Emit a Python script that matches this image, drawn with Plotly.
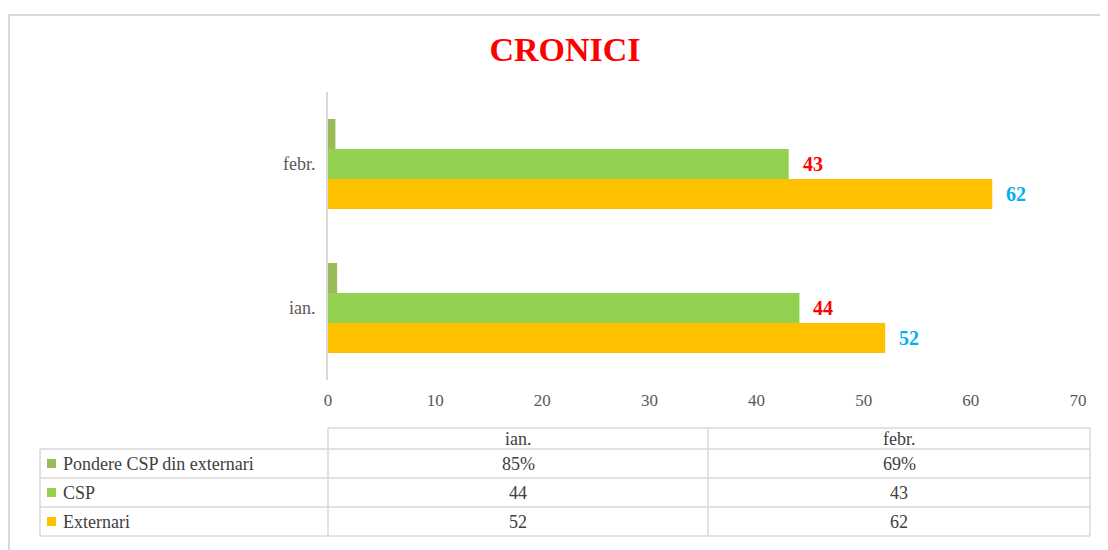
import plotly.graph_objects as go

# ---- data ----
categories = ["ian.", "febr."]
externari = [52, 62]
csp = [44, 43]
pondere = [0.85, 0.69]
series_names = ["Pondere CSP din externari", "CSP", "Externari"]
x_ticks = [0, 10, 20, 30, 40, 50, 60, 70]

# ---- style ----
OFF = 8  # page body margin
W, H = 1108 - OFF, 550 - OFF
PL, PR, PT, PB = 328, 1078, 92, 380  # plot area in screen pixels
C_POND, C_CSP, C_EXT = "#9bbb59", "#92d050", "#ffc000"
FONT = "Liberation Serif"
GRID = "#d9d9d9"


def px(x):
    return (x - PL) / (PR - PL)


def py(y):
    return (PB - y) / (PB - PT)


fig = go.Figure()
fig.add_trace(go.Bar(y=categories, x=externari, orientation="h", name="Externari",
                     marker=dict(color=C_EXT, line=dict(width=0))))
fig.add_trace(go.Bar(y=categories, x=csp, orientation="h", name="CSP",
                     marker=dict(color=C_CSP, line=dict(width=0))))
fig.add_trace(go.Bar(y=categories, x=pondere, orientation="h", name="Pondere CSP din externari",
                     marker=dict(color=C_POND, line=dict(width=0))))

# data labels
for cat, v in zip(categories, csp):
    fig.add_annotation(x=v, y=cat, xref="x", yref="y", text=f"<b>{v}</b>", showarrow=False,
                       xanchor="left", xshift=12, yshift=0,
                       font=dict(family=FONT, size=20, color="#ff0000"))
for cat, v in zip(categories, externari):
    fig.add_annotation(x=v, y=cat, xref="x", yref="y", text=f"<b>{v}</b>", showarrow=False,
                       xanchor="left", xshift=12, yshift=-30,
                       font=dict(family=FONT, size=20, color="#00b0f0"))

shapes = []
# outer border
shapes.append(dict(type="rect", xref="paper", yref="paper", x0=px(9), x1=px(1130), y0=py(570), y1=py(15),
                   line=dict(color=GRID, width=2), fillcolor="rgba(0,0,0,0)", layer="below"))
# table lines
line = dict(color=GRID, width=1.5)
shapes.append(dict(type="line", xref="paper", yref="paper", x0=px(328), x1=px(1090), y0=py(428), y1=py(428), line=line))
for yy in [449, 478, 507, 536]:
    shapes.append(dict(type="line", xref="paper", yref="paper", x0=px(40), x1=px(1090), y0=py(yy), y1=py(yy), line=line))
shapes.append(dict(type="line", xref="paper", yref="paper", x0=px(40), x1=px(40), y0=py(449), y1=py(536), line=line))
for xx in [328, 708, 1090]:
    shapes.append(dict(type="line", xref="paper", yref="paper", x0=px(xx), x1=px(xx), y0=py(428), y1=py(536), line=line))

row_centers = [463.5, 492.5, 521.5]
row_colors = [C_POND, C_CSP, C_EXT]
row_values = [[f"{round(v * 100)}%" for v in pondere], [str(v) for v in csp], [str(v) for v in externari]]
col_centers = [518, 899]
TFONT = dict(family=FONT, size=18, color="#404040")

for cat, cx in zip(categories, col_centers):
    fig.add_annotation(x=px(cx), y=py(438.5), xref="paper", yref="paper", text=cat, showarrow=False,
                       xanchor="center", yanchor="middle", font=TFONT)

for name, color, cy, vals in zip(series_names, row_colors, row_centers, row_values):
    shapes.append(dict(type="rect", xref="paper", yref="paper", x0=px(47), x1=px(56),
                       y0=py(cy + 4.5), y1=py(cy - 4.5), fillcolor=color, line=dict(width=0)))
    fig.add_annotation(x=px(61), y=py(cy), xref="paper", yref="paper", text=name, showarrow=False,
                       xanchor="left", yanchor="middle", font=TFONT)
    for v, cx in zip(vals, col_centers):
        fig.add_annotation(x=px(cx), y=py(cy), xref="paper", yref="paper", text=v, showarrow=False,
                           xanchor="center", yanchor="middle", font=TFONT)

fig.update_layout(
    width=W, height=H,
    margin=dict(l=PL - OFF, r=W - (PR - OFF), t=PT - OFF, b=H - (PB - OFF)),
    paper_bgcolor="white", plot_bgcolor="white",
    barmode="group", bargap=0.375, bargroupgap=0,
    showlegend=False,
    title=dict(text="<b>CRONICI</b>", xref="container", yref="container",
               x=(565 - OFF) / W, xanchor="center", y=1 - (49 - OFF) / H, yanchor="middle",
               font=dict(family=FONT, size=34, color="#ff0000")),
    shapes=shapes,
    font=dict(family=FONT),
)
fig.update_xaxes(range=[0, 70], tickvals=x_ticks, showgrid=False, zeroline=False, showline=False,
                 ticks="", tickfont=dict(family=FONT, size=17, color="#595959"), ticklabelstandoff=8,
                 fixedrange=True)
fig.update_yaxes(showgrid=False, zeroline=False, showline=True, linecolor=GRID, linewidth=2,
                 ticks="", tickfont=dict(family=FONT, size=18, color="#595959"), ticklabelstandoff=7,
                 fixedrange=True)

fig.write_html("out.html")
